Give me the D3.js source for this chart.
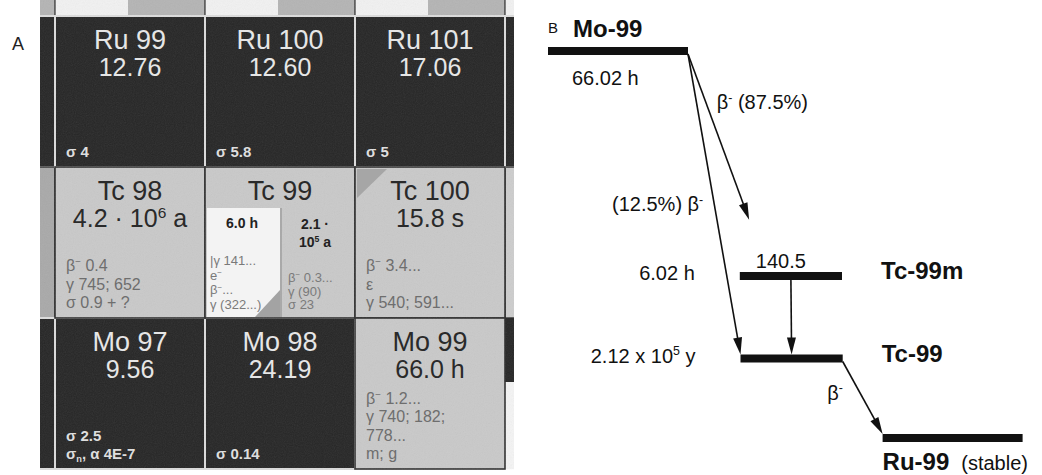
<!DOCTYPE html>
<html>
<head>
<meta charset="utf-8">
<script src="https://cdn.jsdelivr.net/npm/d3@7"></script>
<style>
  body { margin: 0; background: #fff; }
  svg { display: block; font-family: "Liberation Sans", Arial, sans-serif; }
</style>
</head>
<body>
<div id="plot"></div>
<script>
var svgWidth = 1042;
var svgHeight = 475;

// ---------- panel A: piece of the chart of nuclides ----------
var elements = ["Ru", "Tc", "Mo"];
var protonNumbers = [44, 43, 42];
var neutronNumbers = [55, 56, 57];

// abundance (%) for stable ones, half-life for the others
var cellValues = [
  ["12.76", "12.60", "17.06"],
  ["4.2 · 10^6 a", null, "15.8 s"],
  ["9.56", "24.19", "66.0 h"]
];
var cellStable = [
  [true, true, true],
  [false, false, false],
  [true, true, false]
];
var cellNotes = [
  [["σ 4"], ["σ 5.8"], ["σ 5"]],
  [["β^− 0.4", "γ 745; 652", "σ 0.9 + ?"], [], ["β^− 3.4...", "ε", "γ 540; 591..."]],
  [["σ 2.5", "σ_n, α 4E-7"], ["σ 0.14"], ["β^− 1.2...", "γ 740; 182;", "778...", "m; g"]]
];

// Tc 99 box is split: metastable state left, ground state right
var tc99Isomer = "6.0 h";
var tc99IsomerNotes = ["|γ 141...", "e^−", "β^−...", "γ (322...)"];
var tc99Ground = ["2.1 ·", "10^5 a"];
var tc99GroundNotes = ["β^− 0.3...", "γ (90)", "σ 23"];

// neighbours that are cut by the picture edge
var edgeZ = [45, 45, 45, 45, 45, 44, 43, 42, 44, 43, 42];
var edgeN = [54, 55, 56, 57, 58, 54, 54, 54, 58, 58, 58];
var edgeKind = ["isomer", "isomer", "isomer", "isomer", "isomer",
                "stable", "unstable", "stable", "stable", "unstable", "partial"];

// ---------- panel B: decay scheme ----------
var levelNames = ["Mo-99", "Tc-99m", "Tc-99", "Ru-99"];
var levelHalfLives = ["66.02 h", "6.02 h", "2.12 x 10^5 y", "(stable)"];
var gammaEnergy = "140.5";
var decayFrom = [0, 0, 1, 2];
var decayTo = [1, 2, 2, 3];
var decayLabels = ["β^- (87.5%)", "(12.5%) β^-", "", "β^-"];

// layout of the scheme (drawing units, not data)
var levelDepth = [0, 3, 4.1, 5.16];
var levelSpan = [[0, 1], [1.37, 2.1], [1.375, 2.105], [2.39, 3.39]];
var arrowStart = [1, 1, 0.5, 1];
var arrowEnd = [0.28, 0, 0.5, 0];
var arrowReach = [0.76, 1, 1, 1];
var labelT = [0.29, 0.5, 0, 0.43];
var labelDx = [11, -11, 0, -17];

var svg = d3.select("#plot")
  .append("svg")
  .attr("width", svgWidth)
  .attr("height", svgHeight);

// superscript (^x) and subscript (_x) helper
function richText(sel, str, size) {
  var shift = 0;
  str.split(/([\^_]\S)/).forEach(function(p) {
    if (!p) return;
    var t = sel.append("tspan");
    if (p[0] === "^" || p[0] === "_") {
      var s = p[0] === "^" ? -0.36 * size : 0.22 * size;
      t.attr("dy", s - shift).attr("font-size", size * 0.62).text(p[1]);
      shift = s;
    } else {
      t.attr("dy", -shift).text(p);
      shift = 0;
    }
  });
}

var defs = svg.append("defs");
defs.append("clipPath").attr("id", "clipA")
  .append("rect").attr("x", 40).attr("y", 0).attr("width", 474).attr("height", 470);

var grain = defs.append("filter").attr("id", "grain");
grain.append("feTurbulence").attr("type", "fractalNoise")
  .attr("baseFrequency", 0.9).attr("numOctaves", 2).attr("seed", 3);
grain.append("feColorMatrix").attr("type", "saturate").attr("values", 0);

// ===== panel A =====
var xA = d3.scaleLinear().domain([55, 58]).range([55, 505]);
var yA = d3.scaleLinear().domain([44, 41]).range([16, 469]);

var darkFill = "#262626";
var lightFill = "#c9c9c9";

svg.append("text").attr("x", 12).attr("y", 50)
  .attr("font-size", 18).attr("fill", "#222").text("A");

var chartA = svg.append("g").attr("clip-path", "url(#clipA)");

// edge cells
edgeZ.forEach(function(z, i) {
  var n = edgeN[i], x0 = xA(n), x1 = xA(n + 1), y0 = yA(z), y1 = yA(z - 1);
  var kind = edgeKind[i];
  if (kind === "isomer") {
    chartA.append("rect").attr("x", x0).attr("y", y0).attr("width", 73).attr("height", y1 - y0)
      .attr("fill", "#f1f1f1");
    chartA.append("rect").attr("x", x0 + 73).attr("y", y0).attr("width", x1 - x0 - 73).attr("height", y1 - y0)
      .attr("fill", "#b4b4b4");
    chartA.append("rect").attr("x", x0).attr("y", y0).attr("width", x1 - x0).attr("height", y1 - y0)
      .attr("fill", "none").attr("stroke", "#555").attr("stroke-width", 1.5);
  } else if (kind === "unstable") {
    chartA.append("rect").attr("x", x0).attr("y", y0).attr("width", x1 - x0).attr("height", y1 - y0)
      .attr("fill", n < 55 ? "#a9a9a9" : "#cdcdcd").attr("stroke", "#333").attr("stroke-width", 1.5);
  } else if (kind === "partial") {
    chartA.append("rect").attr("x", x0).attr("y", y0).attr("width", x1 - x0).attr("height", y1 - y0)
      .attr("fill", "#f4f4f4");
    chartA.append("rect").attr("x", x0).attr("y", y0).attr("width", x1 - x0).attr("height", 64)
      .attr("fill", darkFill);
  } else {
    chartA.append("rect").attr("x", x0).attr("y", y0).attr("width", x1 - x0).attr("height", y1 - y0)
      .attr("fill", darkFill).attr("stroke", "#ddd").attr("stroke-width", 2);
  }
});

// main cells, dark first so the borders of light cells stay on top
var cells = [];
protonNumbers.forEach(function(z, r) {
  neutronNumbers.forEach(function(n, c) {
    cells.push({ r: r, c: c, z: z, n: n });
  });
});
cells.sort(function(a, b) { return cellStable[b.r][b.c] - cellStable[a.r][a.c]; });

chartA.selectAll(".cell")
  .data(cells)
  .enter()
  .append("rect")
  .attr("class", "cell")
  .attr("x", d => xA(d.n))
  .attr("y", d => yA(d.z))
  .attr("width", d => xA(d.n + 1) - xA(d.n))
  .attr("height", d => yA(d.z - 1) - yA(d.z))
  .attr("fill", d => cellStable[d.r][d.c] ? darkFill : lightFill)
  .attr("stroke", d => cellStable[d.r][d.c] ? "#dcdcdc" : "#2e2e2e")
  .attr("stroke-width", d => cellStable[d.r][d.c] ? 2 : 1.6);

// grain over the whole panel
chartA.append("rect").attr("x", 40).attr("y", 0).attr("width", 474).attr("height", 470)
  .attr("filter", "url(#grain)").attr("opacity", 0.1);

// Tc 99 split box
var tcX = xA(56), tcY = yA(43), tcB = yA(42);
chartA.append("rect").attr("x", tcX + 2).attr("y", tcY + 41).attr("width", 73).attr("height", tcB - tcY - 42)
  .attr("fill", "#f3f3f3");
chartA.append("line").attr("x1", tcX + 76).attr("x2", tcX + 76).attr("y1", tcY + 41).attr("y2", tcB - 1)
  .attr("stroke", "#8a8a8a").attr("stroke-width", 1);
chartA.append("path")
  .attr("d", `M${tcX + 75},${tcB - 28}L${tcX + 75},${tcB - 1}L${tcX + 50},${tcB - 1}Z`)
  .attr("fill", "#a3a3a3");
// corner mark of Tc 100
var t100X = xA(57), t100Y = yA(43);
chartA.append("path")
  .attr("d", `M${t100X + 2},${t100Y + 2}L${t100X + 32},${t100Y + 2}L${t100X + 2},${t100Y + 31}Z`)
  .attr("fill", "#a6a6a6");

// cell texts
cells.forEach(function(d) {
  var stable = cellStable[d.r][d.c];
  var x0 = xA(d.n), cx = (xA(d.n) + xA(d.n + 1)) / 2, y0 = yA(d.z), y1 = yA(d.z - 1);
  var main = stable ? "#e6e6e6" : "#2a2a2a";
  chartA.append("text").attr("x", cx).attr("y", y0 + 33)
    .attr("text-anchor", "middle").attr("font-size", 27).attr("fill", main)
    .text(elements[d.r] + " " + (d.z + d.n));
  if (cellValues[d.r][d.c]) {
    var v = chartA.append("text").attr("x", cx).attr("y", y0 + 60)
      .attr("text-anchor", "middle").attr("font-size", 25).attr("fill", main);
    richText(v, cellValues[d.r][d.c], 25);
  }
  var notes = cellNotes[d.r][d.c];
  notes.forEach(function(s, k) {
    var t = chartA.append("text")
      .attr("x", x0 + 11)
      .attr("y", y1 - 10 - (notes.length - 1 - k) * 18.5)
      .attr("font-size", stable ? 15 : 16)
      .attr("font-weight", stable ? "bold" : "normal")
      .attr("fill", stable ? "#dedede" : "#6e6e6e");
    richText(t, s, stable ? 15 : 16);
  });
});

// Tc 99 state texts
chartA.append("text").attr("x", tcX + 37).attr("y", tcY + 61)
  .attr("text-anchor", "middle").attr("font-size", 14).attr("font-weight", "bold").attr("fill", "#222")
  .text(tc99Isomer);
tc99Ground.forEach(function(s, k) {
  var t = chartA.append("text").attr("x", tcX + 110).attr("y", tcY + 62 + k * 18)
    .attr("text-anchor", "middle").attr("font-size", 14).attr("font-weight", "bold").attr("fill", "#222");
  richText(t, s, 14);
});
tc99IsomerNotes.forEach(function(s, k) {
  var t = chartA.append("text").attr("x", tcX + 5)
    .attr("y", tcB - 9 - (tc99IsomerNotes.length - 1 - k) * 14.7)
    .attr("font-size", 13).attr("fill", "#7a7a7a");
  richText(t, s, 13);
});
tc99GroundNotes.forEach(function(s, k) {
  var t = chartA.append("text").attr("x", tcX + 83)
    .attr("y", tcB - 9 - (tc99GroundNotes.length - 1 - k) * 13.5)
    .attr("font-size", 13).attr("fill", "#7a7a7a");
  richText(t, s, 13);
});

// ===== panel B =====
var xB = d3.scaleLinear().domain([0, 1]).range([548, 688]);
var yB = d3.scaleLinear().domain([0, 1]).range([51, 126]);
var ink = "#111";

var chartB = svg.append("g");

chartB.append("text").attr("x", 548).attr("y", 33)
  .attr("font-size", 15).attr("fill", ink).text("B");

chartB.selectAll(".level")
  .data(levelNames)
  .enter()
  .append("rect")
  .attr("class", "level")
  .attr("x", (d, i) => xB(levelSpan[i][0]))
  .attr("width", (d, i) => xB(levelSpan[i][1]) - xB(levelSpan[i][0]))
  .attr("y", (d, i) => yB(levelDepth[i]) - 4)
  .attr("height", 8)
  .attr("fill", ink);

// level names and half-lives
levelNames.forEach(function(name, i) {
  var yc = yB(levelDepth[i]), xl = xB(levelSpan[i][0]), xr = xB(levelSpan[i][1]);
  var nameText, lifeText;
  if (i === 0) {
    nameText = chartB.append("text").attr("x", xl + 25).attr("y", yc - 14);
    lifeText = chartB.append("text").attr("x", xl + 24).attr("y", yc + 34);
  } else if (i === 3) {
    nameText = chartB.append("text").attr("x", xl).attr("y", yc + 32);
  } else {
    nameText = chartB.append("text").attr("x", xr + 39).attr("y", yc + 3);
    lifeText = chartB.append("text").attr("x", xl - 45).attr("y", yc + 4).attr("text-anchor", "end");
  }
  nameText.attr("font-size", 24).attr("font-weight", "bold").attr("fill", ink).text(name);
  if (i === 3) {
    nameText.append("tspan").attr("dx", 12).attr("font-size", 20).attr("font-weight", "normal")
      .text(levelHalfLives[i]);
  } else {
    lifeText.attr("font-size", 20).attr("fill", ink);
    richText(lifeText, levelHalfLives[i], 20);
  }
});

// gamma energy over the metastable level
chartB.append("text")
  .attr("x", (xB(levelSpan[1][0]) + xB(levelSpan[1][1])) / 2 - 10)
  .attr("y", yB(levelDepth[1]) - 8)
  .attr("text-anchor", "middle").attr("font-size", 20).attr("fill", ink)
  .text(gammaEnergy);

// decay arrows
decayFrom.forEach(function(from, i) {
  var to = decayTo[i];
  var sx = xB(levelSpan[from][0] + (levelSpan[from][1] - levelSpan[from][0]) * arrowStart[i]);
  var sy = yB(levelDepth[from]) + 3;
  var ax = xB(levelSpan[to][0] + (levelSpan[to][1] - levelSpan[to][0]) * arrowEnd[i]);
  var ay = yB(levelDepth[to]) - 4;
  var ex = sx + (ax - sx) * arrowReach[i];
  var ey = sy + (ay - sy) * arrowReach[i];
  var len = Math.hypot(ex - sx, ey - sy), ux = (ex - sx) / len, uy = (ey - sy) / len;
  var head = 17, half = 4.5;
  chartB.append("line")
    .attr("x1", sx).attr("y1", sy)
    .attr("x2", ex - ux * 10).attr("y2", ey - uy * 10)
    .attr("stroke", ink).attr("stroke-width", 1.6);
  var bx = ex - ux * head, by = ey - uy * head;
  chartB.append("path")
    .attr("d", `M${ex},${ey}L${bx - uy * half},${by + ux * half}L${bx + uy * half},${by - ux * half}Z`)
    .attr("fill", ink);

  if (decayLabels[i]) {
    var px = sx + (ex - sx) * labelT[i], py = sy + (ey - sy) * labelT[i];
    var lab = chartB.append("text")
      .attr("x", px + labelDx[i]).attr("y", py + 7)
      .attr("text-anchor", labelDx[i] < 0 ? "end" : "start")
      .attr("font-size", 20).attr("fill", ink);
    richText(lab, decayLabels[i], 20);
  }
});
</script>
</body>
</html>
